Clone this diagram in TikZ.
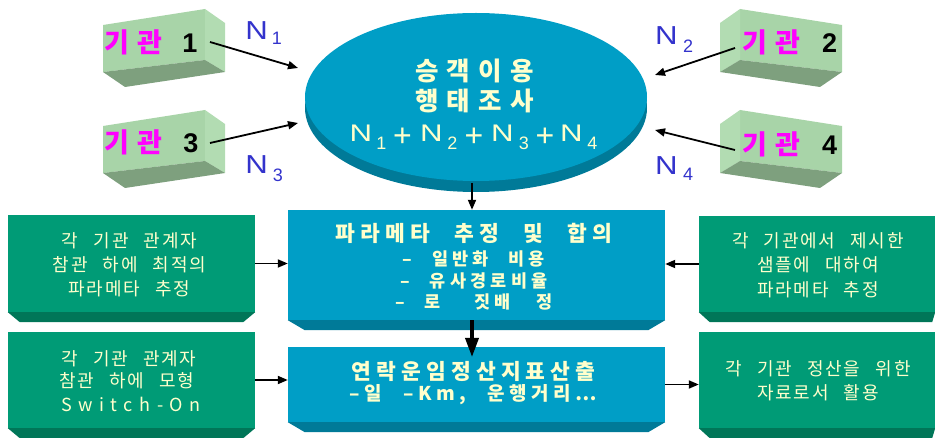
\documentclass[tikz,border=0pt]{standalone}
\usepackage{fontspec}
\usepackage{graphicx}
\usetikzlibrary{arrows.meta,shapes.geometric}
\newfontfamily\krG{Noto Sans CJK KR}[LetterSpace=10,WordSpace=2.6]
\newfontfamily\krS{Noto Sans CJK KR}[LetterSpace=36]
\newfontfamily\krB{Noto Sans CJK KR}[LetterSpace=24,WordSpace=2.4]
\newfontfamily\krE{Noto Sans CJK KR}[LetterSpace=32]
\newfontfamily\krL{Noto Sans CJK KR}[LetterSpace=30]
\newfontfamily\lat{Liberation Sans}
\definecolor{skyb}{RGB}{0,158,198}
\definecolor{skyd}{RGB}{0,122,152}
\definecolor{grn}{RGB}{0,155,118}
\definecolor{grnd}{RGB}{0,118,88}
\definecolor{lgf}{RGB}{168,212,168}
\definecolor{lgs}{RGB}{178,220,178}
\definecolor{lgb}{RGB}{126,160,126}
\definecolor{creamc}{RGB}{255,255,204}
\definecolor{nblue}{RGB}{51,51,204}
\definecolor{mag}{RGB}{255,0,255}
\tikzset{
  gblock/.pic={
    \fill[lgf] (0,0) -- (102,-16) -- (102,35) -- (0,47) -- cycle;
    \fill[lgs] (102,-16) -- (122,-2) -- (122,47) -- (102,35) -- cycle;
    \fill[lgb] (0,47) -- (102,35) -- (122,47) -- (22,62) -- cycle;
  },
  arr/.style={line width=1.8pt,-{Triangle[length=10pt,width=8pt]}},
  bigarr/.style={line width=3.5pt,-{Triangle[length=19pt,width=13pt]}},
  bbox/.style={fill=skyb,inner sep=0,minimum width=377pt},
  gbox/.style={fill=grn,inner sep=0},
  tb/.style={anchor=base,inner sep=0},
  gtxt/.style={tb,text=creamc,font=\krG\fontsize{18}{20}\selectfont},
  btitle/.style={tb,text=creamc,font=\krB\bfseries\fontsize{21.5}{24}\selectfont},
  bsub/.style={tb,text=creamc,font=\krB\bfseries\fontsize{17.5}{20}\selectfont},
  etxt/.style={tb,text=creamc,font=\krE\bfseries\fontsize{25.5}{28}\selectfont},
  klab/.style={tb,text=mag,font=\krL\bfseries\fontsize{27}{30}\selectfont},
  knum/.style={tb,text=black,font=\lat\bfseries\fontsize{27}{30}\selectfont},
  nbig/.style={tb,text=nblue,font=\lat\fontsize{26}{28}\selectfont},
  nsub/.style={tb,text=nblue,font=\lat\fontsize{18}{20}\selectfont},
  fbig/.style={tb,text=creamc,font=\lat\fontsize{24}{26}\selectfont},
  fsub/.style={tb,text=creamc,font=\lat\fontsize{18}{20}\selectfont},
  fplus/.style={tb,text=creamc,font=\lat\fontsize{32}{34}\selectfont},
}
\begin{document}
\begin{tikzpicture}[x=1pt,y=-1pt]
\useasboundingbox (0,0) rectangle (935,438);

% ---- 3D blocks ----
\pic at (103,25) {gblock};
\pic at (103,126) {gblock};
\pic[xscale=-1] at (842,25) {gblock};
\pic[xscale=-1] at (842,126) {gblock};

\node[klab] (k1) at (133,53) {기관};
\node[knum] (k1n) at (190,52.7) {1};
\node[klab] (k3) at (133,153) {기관};
\node[knum] (k3n) at (191,152.7) {3};
\node[klab] (k2) at (771,52.5) {기관};
\node[knum] (k2n) at (829.5,52.2) {2};
\node[klab] (k4) at (771,155) {기관};
\node[knum] (k4n) at (829.5,154.7) {4};

% ---- N labels ----
\node[nbig] (n1) at (256.7,40) {\scalebox{1.2}[1]{N}};
\node[nsub] (n1s) at (277,44.7) {1};
\node[nbig] (n3) at (256.7,173.3) {\scalebox{1.2}[1]{N}};
\node[nsub] (n3s) at (278,181.4) {3};
\node[nbig] (n2) at (666.5,45) {\scalebox{1.2}[1]{N}};
\node[nsub] (n2s) at (688,52.9) {2};
\node[nbig] (n4) at (666.5,174.3) {\scalebox{1.2}[1]{N}};
\node[nsub] (n4s) at (688,180.4) {4};

% ---- ellipse ----
\fill[skyd] (476,108) ellipse [x radius=171pt, y radius=84pt];
\node[ellipse,fill=skyb,inner sep=0,minimum width=342pt,minimum height=168pt] (el) at (476,97) {};
\node[etxt] (el1) at (474.5,80.5) {승객이용};
\node[etxt] (el2) at (474.5,110.5) {행태조사};
\node[fbig] (f1) at (361,142) {\scalebox{1.3}[1]{N}};
\node[fsub] (f2) at (381.5,150) {1};
\node[fplus] (f3) at (402.5,147) {+};
\node[fbig] (f4) at (431.5,142) {\scalebox{1.3}[1]{N}};
\node[fsub] (f5) at (452.5,150) {2};
\node[fplus] (f6) at (474,147) {+};
\node[fbig] (f7) at (502.5,142) {\scalebox{1.3}[1]{N}};
\node[fsub] (f8) at (524,150) {3};
\node[fplus] (f9) at (545,147) {+};
\node[fbig] (f10) at (571.5,142) {\scalebox{1.3}[1]{N}};
\node[fsub] (f11) at (592.5,150) {4};

% ---- boxes ----
\node[bbox,minimum height=110pt] (bb1) at (476.5,265) {};
\fill[skyd] (bb1.south west) -- (bb1.south east) -- ([shift={(-17,10)}]bb1.south east) -- ([shift={(17,10)}]bb1.south west) -- cycle;
\node[bbox,minimum height=75pt] (bb2) at (476.5,384.5) {};
\fill[skyd] (bb2.south west) -- (bb2.south east) -- ([shift={(-17,10)}]bb2.south east) -- ([shift={(17,10)}]bb2.south west) -- cycle;

\node[gbox,minimum width=247pt,minimum height=97pt] (g1) at (131.5,263.5) {};
\fill[grnd] (g1.south west) -- (g1.south east) -- ([shift={(-12,10)}]g1.south east) -- ([shift={(12,10)}]g1.south west) -- cycle;
\node[gbox,minimum width=247pt,minimum height=96pt] (g2) at (131.5,380) {};
\fill[grnd] (g2.south west) -- (g2.south east) -- ([shift={(-12,10)}]g2.south east) -- ([shift={(12,10)}]g2.south west) -- cycle;
\node[gbox,minimum width=236pt,minimum height=96pt] (r1) at (817,264) {};
\fill[grnd] (r1.south west) -- (r1.south east) -- ([shift={(-3,10)}]r1.south east) -- ([shift={(11,10)}]r1.south west) -- cycle;
\node[gbox,minimum width=236pt,minimum height=96pt] (r2) at (817,380) {};
\fill[grnd] (r2.south west) -- (r2.south east) -- ([shift={(-3,10)}]r2.south east) -- ([shift={(11,10)}]r2.south west) -- cycle;

% ---- box texts ----
\node[btitle] (t1) at (474,242) {파라메타 추정 및 합의};
\node[bsub] (t2) at (474,265.4) {– 일반화 비용};
\node[bsub] (t3) at (474,287.4) {– 유사경로비율};
\node[bsub] (t4) at (474,308.4) {– 로\hspace{14pt} 짓배\hspace{6pt} 정};
\node[btitle] (u1) at (473.5,380) {연락운임정산지표산출};
\node[bsub,font=\krB\bfseries\fontsize{19}{22}\selectfont] (u2) at (473.5,401) {–일 –Km, 운행거리…};

\node[gtxt] (ga1) at (129.5,247.6) {각 기관 관계자};
\node[gtxt] (ga2) at (129.5,271.6) {참관 하에 최적의};
\node[gtxt] (ga3) at (129.5,295.6) {파라메타 추정};
\node[gtxt] (gb1) at (129,365.6) {각 기관 관계자};
\node[gtxt] (gb2) at (127,387.6) {참관 하에 모형};
\node[gtxt,font=\krS\fontsize{18}{20}\selectfont] (gb3) at (131,412) {Switch-On};
\node[gtxt] (ra1) at (818,247.6) {각 기관에서 제시한};
\node[gtxt] (ra2) at (818,271.6) {샘플에 대하여};
\node[gtxt] (ra3) at (818,296.6) {파라메타 추정};
\node[gtxt] (rb1) at (818,375.6) {각 기관 정산을 위한};
\node[gtxt] (rb2) at (818,399.6) {자료로서 활용};

% ---- connectors ----
\coordinate (s1) at (210,42);  \coordinate (e1) at (298,68);
\coordinate (s3) at (210,143); \coordinate (e3) at (298,123);
\coordinate (s2) at (735,48);  \coordinate (e2) at (655,75);
\coordinate (s4) at (735,150); \coordinate (e4) at (655,130);
\draw[arr] (s1) -- (e1);
\draw[arr] (s3) -- (e3);
\draw[arr] (s2) -- (e2);
\draw[arr] (s4) -- (e4);
\coordinate (ea) at (472,183);
\draw[arr] (ea) -- (ea |- bb1.north);
\coordinate (m2) at (472,357);
\draw[bigarr] (m2 |- bb1.south) -- (m2);
\draw[arr] (g1.east) -- (g1.east -| bb1.west);
\draw[arr] (r1.west) -- (r1.west -| bb1.east);
\draw[arr] (g2.east) -- (g2.east -| bb2.west);
\draw[arr] (bb2.east) -- (bb2.east -| r2.west);
\end{tikzpicture}
\end{document}
